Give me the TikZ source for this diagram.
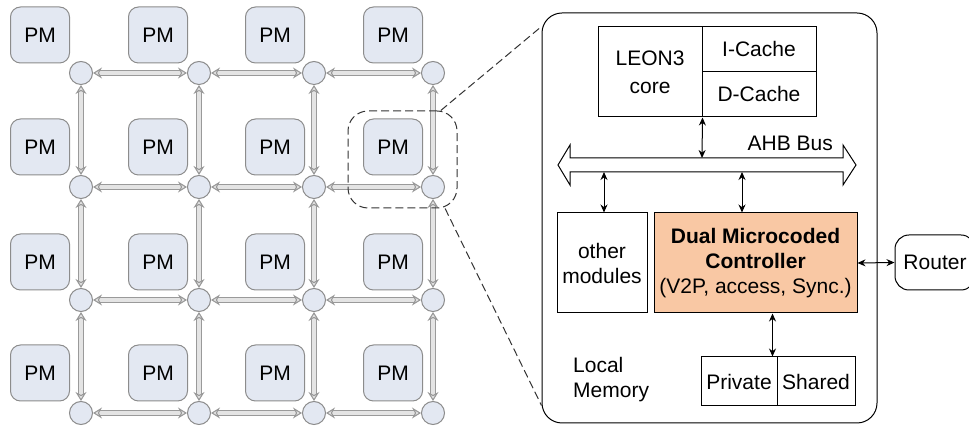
\documentclass[tikz,border=0pt]{standalone}
\usepackage{fontspec}
\setmainfont{Liberation Sans}
\usetikzlibrary{arrows.meta}

\definecolor{pmfill}{HTML}{E3E8F2}
\definecolor{pmline}{HTML}{8C8C8C}
\definecolor{linkline}{HTML}{9A9A9A}
\definecolor{linkfill}{HTML}{E4E4E4}
\definecolor{ctrlfill}{HTML}{F9C8A4}

\tikzset{
  pm/.style={draw=pmline, fill=pmfill, rounded corners=5pt, minimum width=29.5pt, minimum height=28pt, inner sep=0pt},
  rtr/.style={circle, draw=pmline, fill=pmfill, minimum size=11.5pt, inner sep=0pt},
  link/.style={draw=linkline, line width=0.55pt, double=linkfill, double distance=1.9pt,
    {Stealth[length=4.5pt,width=5.5pt,fill=linkfill]}-{Stealth[length=4.5pt,width=5.5pt,fill=linkfill]}},
  blk/.style={draw, inner sep=0pt, align=center},
  biarr/.style={{Stealth[length=4pt,width=3.5pt]}-{Stealth[length=4pt,width=3.5pt]}},
  zoomline/.style={dashed, dash pattern=on 4pt off 2pt, gray!40!black}
}

\begin{document}
\begin{tikzpicture}[x=0.5pt, y=-0.5pt, line width=0.5pt, font=\fontsize{10.5}{12.5}\selectfont]
  \useasboundingbox (0,0) rectangle (969,426);

  % mesh of processing modules
  \foreach \i/\y in {1/35,2/147,3/262,4/373}
    \foreach \j/\x in {1/40,2/158,3/275,4/393}
      \node[pm] (pm-\i-\j) at (\x,\y) {PM};
  \foreach \i/\y in {1/73,2/187,3/300,4/413}
    \foreach \j/\x in {1/81,2/199,3/314,4/433}
      \node[rtr] (r-\i-\j) at (\x,\y) {};
  \foreach \i in {1,...,4}
    \foreach \j [count=\k from 2] in {1,2,3} {
      \draw[link] (r-\i-\j) -- (r-\i-\k);
      \draw[link] (r-\j-\i) -- (r-\k-\i);
    }

  \node[draw, zoomline, rounded corners=10pt, minimum width=54.5pt, minimum height=48.5pt] (zoomrect) at (402.5,159.5) {};

  % detail of one module
  \node[draw, rounded corners=10pt, minimum width=167.5pt, minimum height=205pt] (detail) at (709.5,218) {};
  \draw[zoomline] (zoomrect.52) -- ([yshift=-7pt]detail.north west);
  \draw[zoomline] (zoomrect.-49) -- ([yshift=9pt]detail.south west);

  \node[blk, minimum width=52pt, minimum height=45pt] (leon) at (650,72) {LEON3\\[1.5pt]core};
  \node[blk, minimum width=57pt, minimum height=22.5pt] (icache) at (759,49.5) {I-Cache};
  \node[blk, minimum width=57pt, minimum height=22.5pt] (dcache) at (759,94.5) {D-Cache};

  \draw (558,165) -- (570,145) -- (570,158) -- (843,158) -- (843,145) -- (856,165)
    -- (843,185) -- (843,172) -- (570,172) -- (570,185) -- cycle;
  \coordinate (bus-n) at (702,158);
  \coordinate (bus-s1) at (604,172);
  \coordinate (bus-s2) at (742,172);
  \node[anchor=base east] (ahb) at (840,151) {AHB Bus};

  \node[blk, minimum width=45pt, minimum height=50pt] (other) at (602,263) {other\\modules};
  \node[blk, fill=ctrlfill, minimum width=101.5pt, minimum height=50pt] (ctrl) at (755.5,263)
    {\textbf{Dual Microcoded}\\\textbf{Controller}\\(V2P, access, Sync.)};
  \node[blk, minimum width=38pt, minimum height=24.5pt] (priv) at (739,381.5) {Private};
  \node[blk, minimum width=39pt, minimum height=24.5pt] (shrd) at (816,381.5) {Shared};
  \node[anchor=west, align=left] (locmem) at (566,380) {Local\\Memory};
  \node[draw, rounded corners=7pt, minimum width=40pt, minimum height=27.5pt, inner sep=0pt] (router) at (935,262.5) {Router};

  \draw[biarr] (leon.south east) -- (bus-n);
  \draw[biarr] (bus-s1) -- (bus-s1 |- other.north);
  \draw[biarr] (bus-s2) -- (bus-s2 |- ctrl.north);
  \draw[biarr] (ctrl.east) -- (router.west);
  \draw[biarr] ([xshift=-2.5pt]priv.north east |- ctrl.south) -- ([xshift=-2.5pt]priv.north east);
\end{tikzpicture}
\end{document}
